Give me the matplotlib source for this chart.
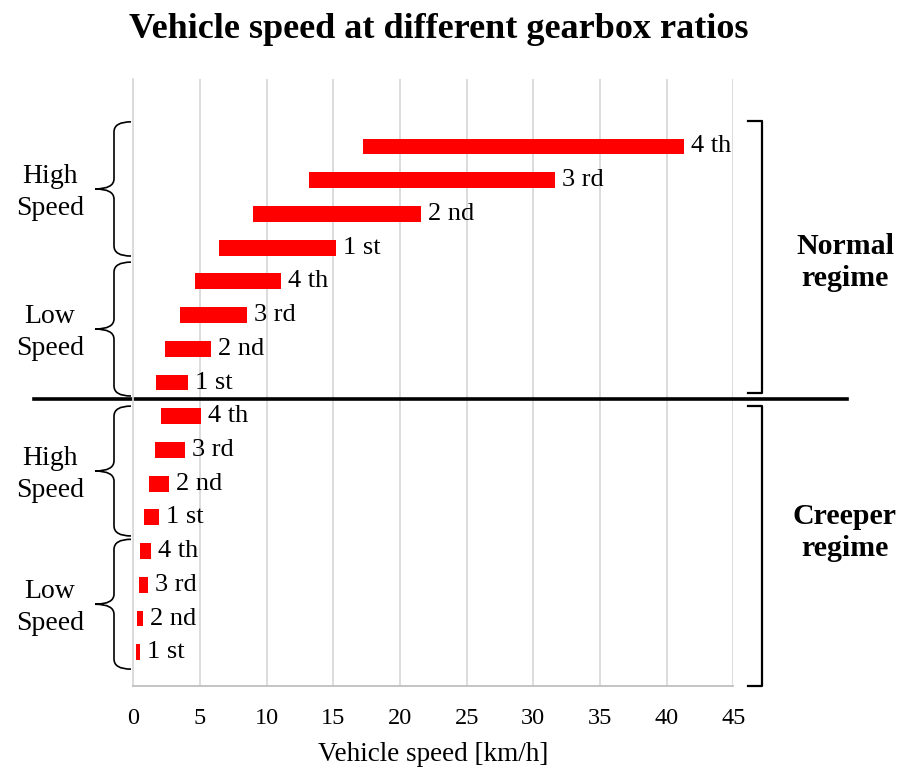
import numpy as np
import matplotlib.pyplot as plt
from matplotlib.path import Path
from matplotlib.patches import PathPatch
from matplotlib.transforms import blended_transform_factory

plt.rcParams['font.family'] = ['Liberation Serif', 'DejaVu Serif']

# gears, bottom -> top inside each group
gears = ['1 st', '2 nd', '3 rd', '4 th']

# speed range [km/h] per gear (start, end)
creeper_low_start = [0.2, 0.28, 0.43, 0.53]
creeper_low_end = [0.53, 0.73, 1.08, 1.33]
creeper_high_start = [0.8, 1.15, 1.6, 2.1]
creeper_high_end = [1.95, 2.7, 3.9, 5.1]
normal_low_start = [1.7, 2.4, 3.5, 4.65]
normal_low_end = [4.1, 5.8, 8.5, 11.1]
normal_high_start = [6.4, 9.0, 13.2, 17.25]
normal_high_end = [15.2, 21.6, 31.6, 41.3]

group_names = ['Low\nSpeed', 'High\nSpeed', 'Low\nSpeed', 'High\nSpeed']
regime_names = ['Creeper\nregime', 'Normal\nregime']

starts = np.array(creeper_low_start + creeper_high_start + normal_low_start + normal_high_start)
ends = np.array(creeper_low_end + creeper_high_end + normal_low_end + normal_high_end)
labels = gears * 4
rows = np.arange(len(starts))

fig = plt.figure(figsize=(9.04, 7.71), dpi=100)
ax = fig.add_axes([133.3 / 904, 85 / 771, 600 / 904, 607 / 771])

ax.barh(rows, ends - starts, left=starts, height=0.47, color='#ff0000', zorder=3)
for y, e, lab in zip(rows, ends, labels):
    ax.annotate(lab, (e, y), xytext=(5, 0), textcoords='offset points',
                va='center', ha='left', fontsize=19)

ax.set_xlim(0, 45)
ax.set_ylim(-1, 17)
ax.set_xticks(np.arange(0, 46, 5))
ax.set_yticks([])
ax.grid(axis='x', color='#d9d9d9', lw=1.3, zorder=0)
ax.tick_params(axis='x', length=0, pad=16, labelsize=17.5)
for s in ['top', 'right']:
    ax.spines[s].set_visible(False)
ax.spines['left'].set_color('#d9d9d9')
ax.spines['left'].set_linewidth(1.3)
ax.spines['bottom'].set_color('#bfbfbf')
ax.spines['bottom'].set_linewidth(1.3)
ax.set_xlabel('Vehicle speed [km/h]', fontsize=19.5, labelpad=9)

fig.text(439 / 904, 1 - 29 / 771, 'Vehicle speed at different gearbox ratios',
         fontsize=26, weight='bold', ha='center', va='center')

# annotations: x in figure fraction, y in data rows
tr = blended_transform_factory(fig.transFigure, ax.transData)


def brace(y0, y1, x_tip=95 / 904, x_mid=114 / 904, x_end=131 / 904, r=0.3):
    ym = (y0 + y1) / 2
    verts = [(x_end, y1), (x_mid, y1), (x_mid, y1 - r), (x_mid, ym + r),
             (x_mid, ym), (x_tip, ym), (x_mid, ym), (x_mid, ym - r),
             (x_mid, y0 + r), (x_mid, y0), (x_end, y0)]
    codes = [Path.MOVETO, Path.CURVE3, Path.CURVE3, Path.LINETO,
             Path.CURVE3, Path.CURVE3, Path.CURVE3, Path.CURVE3,
             Path.LINETO, Path.CURVE3, Path.CURVE3]
    ax.add_patch(PathPatch(Path(verts, codes), fill=False, lw=1.2, color='black',
                           transform=tr, clip_on=False))
    return ym


brace_spans = [(-0.5, 3.35), (3.45, 7.3), (7.6, 11.57), (11.75, 15.73)]
for (y0, y1), name in zip(brace_spans, group_names):
    ym = brace(y0, y1)
    ax.text(50 / 904, ym - 0.1, name, transform=tr, ha='center', va='center',
            fontsize=20, linespacing=1.35)

# right square brackets
bracket_spans = [(-1.0, 7.3), (7.69, 15.76)]
for (y0, y1) in bracket_spans:
    ax.plot([748 / 904, 762 / 904, 762 / 904, 748 / 904], [y1, y1, y0, y0],
            transform=tr, color='black', lw=1.6, clip_on=False,
            solid_joinstyle='round')

for yc, name in zip([3.55, 11.55], regime_names):
    ax.text(845 / 904, yc, name, transform=tr, ha='center', va='center',
            fontsize=21.5, weight='bold', linespacing=1.25)

# separator between creeper and normal regime
ax.plot([34 / 904, 847 / 904], [7.5, 7.5], transform=tr, color='black',
        lw=2.6, clip_on=False)

fig.savefig('out.png', dpi=100)
